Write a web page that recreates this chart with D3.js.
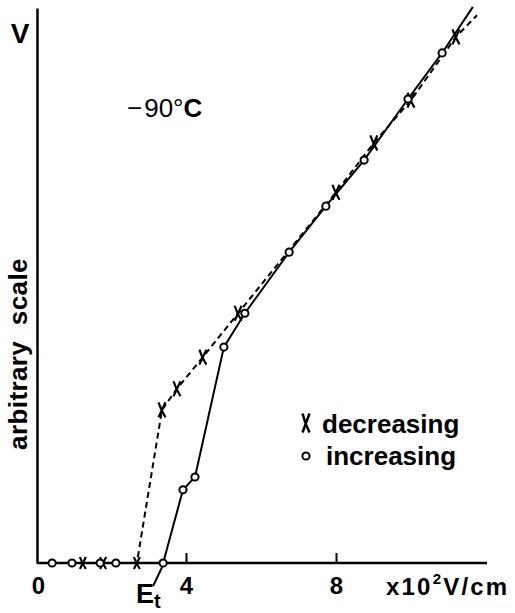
<!DOCTYPE html>
<head>
    <meta charset="utf-8">
    <style>
        body {
            margin: 0;
            background-color: #fff;
            overflow: hidden;
        }

        text {
            font-family: "Liberation Sans", Arial, sans-serif;
            fill: #000;
        }
    </style>
</head>

<body>
    <div id="chart-area"></div>

    <script src="https://d3js.org/d3.v7.min.js"></script>
    <script>
        // field strength (x10^2 V/cm) and signal V (arbitrary scale)
        var increasingE = [0.43, 0.96, 1.71, 2.13, 3.39, 3.92, 4.24, 5.01, 5.57, 6.75, 7.73, 8.75, 9.92, 10.83]
        var increasingV = [0, 0, 0, 0, 0, 1.32, 1.55, 3.89, 4.50, 5.60, 6.43, 7.26, 8.36, 9.19]
        var decreasingE = [1.25, 1.79, 2.69, 3.36, 3.76, 4.45, 5.39, 8.00, 9.01, 10.00, 11.20]
        var decreasingV = [0, 0, 0, 2.76, 3.14, 3.71, 4.50, 6.68, 7.57, 8.34, 9.48]
        // where the drawn lines run on past the last point
        var increasingEnd = [11.65, 10.02]
        var decreasingEnd = [11.76, 9.87]

        var xTicks = [0, 4, 8]
        var thresholdE = 3.39

        var width = 515,
            height = 613

        var x = d3.scaleLinear().domain([0, 12]).range([36, 486])
        var y = d3.scaleLinear().domain([0, 10]).range([563, 8])

        var svg = d3.select("#chart-area").append("svg")
            .attr("width", width)
            .attr("height", height)

        var incData = increasingE.map((e, i) => ({ e: e, v: increasingV[i] }))
        var decData = decreasingE.map((e, i) => ({ e: e, v: decreasingV[i] }))

        var line = d3.line().x(d => x(d.e)).y(d => y(d.v))

        // axes
        svg.append("g")
            .attr("transform", `translate(0,${y(0)})`)
            .call(d3.axisBottom(x).tickValues(xTicks).tickSize(-10).tickSizeOuter(0).tickPadding(14).tickFormat(d3.format("d")))
            .call(g => {
                g.select(".domain").attr("stroke-width", 2.5).attr("d", `M${x(0) + 1},0H${x(12) + 1}`)
                g.selectAll(".tick line").attr("stroke-width", 2).attr("stroke", (d) => d === 0 ? "none" : "#000")
                g.selectAll(".tick text").attr("font-size", 24).attr("font-weight", "bold").attr("font-family", "Liberation Sans")
                    .attr("x", (d) => d === 0 ? 2 : 0)
            })

        svg.append("g")
            .attr("transform", `translate(${x(0) + 1},0)`)
            .call(d3.axisLeft(y).tickValues([]).tickSizeOuter(0))
            .call(g => g.select(".domain").attr("stroke-width", 2.5))

        // curves
        svg.append("path")
            .datum(decData.concat([{ e: decreasingEnd[0], v: decreasingEnd[1] }]))
            .attr("d", line)
            .attr("fill", "none")
            .attr("stroke", "#000")
            .attr("stroke-width", 2)
            .attr("stroke-dasharray", "6,4")

        svg.append("path")
            .datum(incData.concat([{ e: increasingEnd[0], v: increasingEnd[1] }]))
            .attr("d", line)
            .attr("fill", "none")
            .attr("stroke", "#000")
            .attr("stroke-width", 2)

        function crossPath(w, h) {
            return `M${-w / 2},${-h / 2}Q${-w / 6},0 ${w / 2},${h / 2}M${w / 2},${-h / 2}L${-w / 2},${h / 2}`
        }

        svg.selectAll(".dec")
            .data(decData)
            .join("path")
            .attr("class", "dec")
            .attr("transform", d => `translate(${x(d.e)},${y(d.v)})`)
            .attr("d", d => d.v === 0 ? crossPath(6, 12) : crossPath(7, 15))
            .attr("fill", "none")
            .attr("stroke", "#000")
            .attr("stroke-width", 2.2)

        svg.selectAll(".inc")
            .data(incData)
            .join("circle")
            .attr("class", "inc")
            .attr("cx", d => x(d.e))
            .attr("cy", d => y(d.v))
            .attr("r", 3.6)
            .attr("fill", "#fff")
            .attr("stroke", "#000")
            .attr("stroke-width", 2)

        // labels
        svg.append("text")
            .attr("x", 20).attr("y", 43)
            .attr("text-anchor", "middle")
            .attr("font-size", 28).attr("font-weight", "bold")
            .text("V")

        svg.append("text")
            .attr("transform", "translate(27,354) rotate(-90)")
            .attr("text-anchor", "middle")
            .attr("font-size", 26).attr("font-weight", "bold")
            .attr("word-spacing", 8)
            .attr("letter-spacing", 0.4)
            .text("arbitrary scale")

        var temp = svg.append("text")
            .attr("x", 127).attr("y", 117)
            .attr("font-size", 26)
        temp.append("tspan").text("\u2212")
        temp.append("tspan").attr("dx", 2).text("90")
        temp.append("tspan").text("\u00b0")
        temp.append("tspan").attr("font-weight", "bold").text("C")

        // E_t annotation
        svg.append("line")
            .attr("x1", x(thresholdE) - 10).attr("y1", y(0) + 23)
            .attr("x2", x(thresholdE) - 1).attr("y2", y(0) + 4)
            .attr("stroke", "#000").attr("stroke-width", 2)

        var et = svg.append("text")
            .attr("x", 136).attr("y", 603)
            .attr("font-size", 27).attr("font-weight", "bold")
        et.append("tspan").text("E")
        et.append("tspan").attr("font-size", 20).attr("dy", 5).text("t")

        // unit label
        var unit = svg.append("text")
            .attr("x", 386).attr("y", 595)
            .attr("font-size", 24).attr("font-weight", "bold")
            .attr("letter-spacing", 2.2)
        unit.append("tspan").text("x10")
        unit.append("tspan").attr("font-size", 15).attr("dy", -11).text("2")
        unit.append("tspan").attr("dy", 11).text("V/cm")

        // legend
        svg.append("path")
            .attr("transform", "translate(306,423)")
            .attr("d", crossPath(7, 19))
            .attr("fill", "none").attr("stroke", "#000").attr("stroke-width", 2.5)
        svg.append("text")
            .attr("x", 322).attr("y", 433)
            .attr("font-size", 26).attr("font-weight", "bold")
            .text("decreasing")

        svg.append("circle")
            .attr("cx", 306).attr("cy", 456).attr("r", 3.6)
            .attr("fill", "#fff").attr("stroke", "#000").attr("stroke-width", 2)
        svg.append("text")
            .attr("x", 326).attr("y", 465)
            .attr("font-size", 26).attr("font-weight", "bold")
            .text("increasing")
    </script>
</body>
